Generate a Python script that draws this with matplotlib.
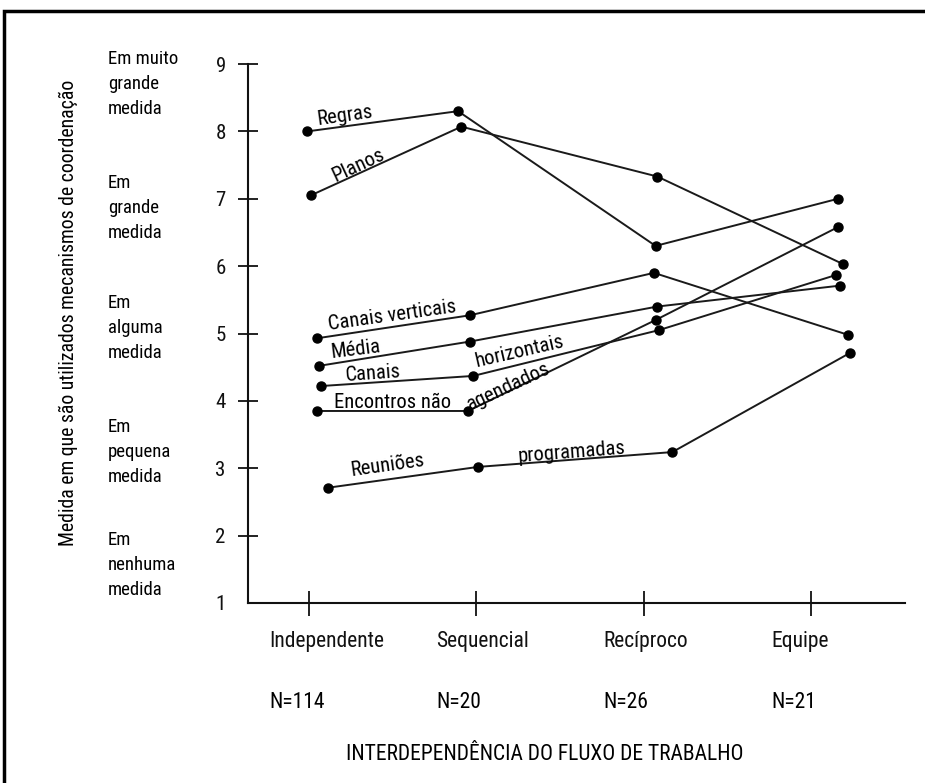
import matplotlib
matplotlib.use("Agg")
import matplotlib.pyplot as plt
import matplotlib.transforms as mtransforms
from matplotlib import font_manager
from matplotlib.font_manager import FontProperties
from matplotlib.patches import Rectangle

# ---------------- data ----------------
categories = ["Independente", "Sequencial", "Recíproco", "Equipe"]
n_labels = ["N=114", "N=20", "N=26", "N=21"]

regras_y = [8.00, 8.30, 6.30, 7.00]
planos_y = [7.05, 8.07, 7.33, 6.03]
canais_vert_y = [4.93, 5.27, 5.90, 4.98]
media_y = [4.52, 4.88, 5.40, 5.71]
canais_horiz_y = [4.22, 4.37, 5.05, 5.87]
encontros_y = [3.85, 3.85, 5.20, 6.58]
reunioes_y = [2.71, 3.02, 3.24, 4.71]

# horizontal placement of each point (category index + small offsets as drawn)
regras_x = [-0.01, 0.89, 2.07, 3.16]
planos_x = [0.01, 0.91, 2.08, 3.19]
canais_vert_x = [0.05, 0.96, 2.06, 3.22]
media_x = [0.06, 0.96, 2.08, 3.17]
canais_horiz_x = [0.07, 0.98, 2.09, 3.15]
encontros_x = [0.05, 0.95, 2.07, 3.16]
reunioes_x = [0.11, 1.01, 2.17, 3.23]

y_ticks = [1, 2, 3, 4, 5, 6, 7, 8, 9]
scale_labels = ["Em muito\ngrande\nmedida", "Em\ngrande\nmedida", "Em\nalguma\nmedida",
                "Em\npequena\nmedida", "Em\nnenhuma\nmedida"]
scale_label_y = [8.70, 6.86, 5.08, 3.24, 1.57]

y_title = "Medida em que são utilizados mecanismos de coordenação"
x_title = "INTERDEPENDÊNCIA DO FLUXO DE TRABALHO"

# ---------------- font: prefer a condensed face ----------------
def find_condensed():
    prefs = ["liberationsansnarrow-regular", "robotocondensed-regular",
             "dejavusanscondensed.ttf", "opensans_condensed-regular",
             "opensanscondensed-regular", "notosans-condensed.ttf",
             "notosanscondensed-regular"]
    files = [f.fname for f in font_manager.fontManager.ttflist]
    low = {fn.lower().replace(" ", "").split("/")[-1]: fn for fn in files}
    for p in prefs:
        for k, fn in low.items():
            if k.startswith(p.split(".")[0]) and (("." not in p) or k == p):
                return fn
    for k, fn in low.items():
        if ("condensed" in k or "narrow" in k) and not any(
                w in k for w in ["bold", "italic", "oblique", "light", "thin",
                                 "black", "medium", "semi", "extra"]):
            return fn
    return None

cfile = find_condensed()
if cfile:
    def FP(size):
        return FontProperties(fname=cfile, size=size)
    K = 1.0
else:
    def FP(size):
        return FontProperties(family=["Liberation Sans", "DejaVu Sans"], size=size)
    K = 0.87

FS_CAT = 15.5 * K
FS_LINE = 14.8 * K
FS_YT = 14.2 * K
FS_SCALE = 13.5 * K
FS_NUM = 15.0 * K

W, H = 925, 783
fig = plt.figure(figsize=(W / 100, H / 100), dpi=100)
fig.patch.set_facecolor("white")

# outer frame (only left and top visible)
fig.patches.append(Rectangle((4 / W, -0.1), 1.2, 1 - 11 / H + 0.1,
                             transform=fig.transFigure, fill=False,
                             edgecolor="black", linewidth=2.5))

ax = fig.add_axes([248 / W, 1 - 603 / H, 657 / W, 539 / H])
ax.set_xlim(-0.365, 3.56)
ax.set_ylim(1, 9)
for s in ["top", "right"]:
    ax.spines[s].set_visible(False)
for s in ["left", "bottom"]:
    ax.spines[s].set_linewidth(1.5)
    ax.spines[s].set_color("#111111")

LC = "#1a1a1a"
series = [
    (regras_x, regras_y), (planos_x, planos_y), (canais_vert_x, canais_vert_y),
    (media_x, media_y), (canais_horiz_x, canais_horiz_y),
    (encontros_x, encontros_y), (reunioes_x, reunioes_y),
]
for xs, ys in series:
    ax.plot(xs, ys, color=LC, linewidth=1.4, marker="o", markersize=6.5,
            markerfacecolor="black", markeredgecolor="black", clip_on=False)

# ticks
ax.set_yticks(y_ticks)
ax.set_yticklabels([str(t) for t in y_ticks])
for lab in ax.get_yticklabels():
    lab.set_fontproperties(FP(FS_NUM))
ax.tick_params(axis="y", direction="inout", length=14, width=1.3, pad=9, colors="#111111")
ax.yaxis.get_major_ticks()[0].tick1line.set_visible(False)

ax.set_xticks(range(len(categories)))
ax.set_xticklabels(categories, ha="left")
ax.tick_params(axis="x", direction="inout", length=18, width=1.3, pad=11, colors="#111111")
off = mtransforms.ScaledTranslation(-40 / 100, 0, fig.dpi_scale_trans)
for lab in ax.get_xticklabels():
    lab.set_fontproperties(FP(FS_CAT))
    lab.set_transform(lab.get_transform() + off)

# N labels
nt = mtransforms.blended_transform_factory(ax.transData, ax.transAxes)
for i, nl in enumerate(n_labels):
    ax.text(i, -0.184, nl, fontproperties=FP(FS_CAT), ha="left", va="center",
            transform=nt + off)

# scale descriptors on the left
bt = mtransforms.blended_transform_factory(ax.transAxes, ax.transData)
for lab, yv in zip(scale_labels, scale_label_y):
    ax.text(-0.213, yv, lab, fontproperties=FP(FS_SCALE), ha="left", va="center",
            transform=bt, linespacing=1.5)

fig.text(68 / W, 1 - 313 / H, y_title, rotation=90, fontproperties=FP(FS_YT),
         ha="center", va="center")
fig.text(545 / W, 1 - 755 / H, x_title, fontproperties=FP(FS_CAT),
         ha="center", va="center")

# line labels
line_labels = [
    ("Regras", 0.215, 8.24, 8),
    ("Planos", 0.293, 7.50, 25),
    ("Canais verticais", 0.497, 5.26, 8),
    ("Média", 0.275, 4.77, 7),
    ("Canais", 0.383, 4.40, 4),
    ("Encontros não", 0.497, 3.98, 0),
    ("horizontais", 1.257, 4.73, 13),
    ("agendados", 1.19, 4.21, 25),
    ("Reuniões", 0.467, 3.05, 8),
    ("programadas", 1.567, 3.24, 4.5),
]
for txt, xv, yv, rot in line_labels:
    ax.text(xv, yv, txt, fontproperties=FP(FS_LINE), ha="center", va="center",
            rotation=rot, rotation_mode="anchor")

fig.savefig("out.png", dpi=100)
